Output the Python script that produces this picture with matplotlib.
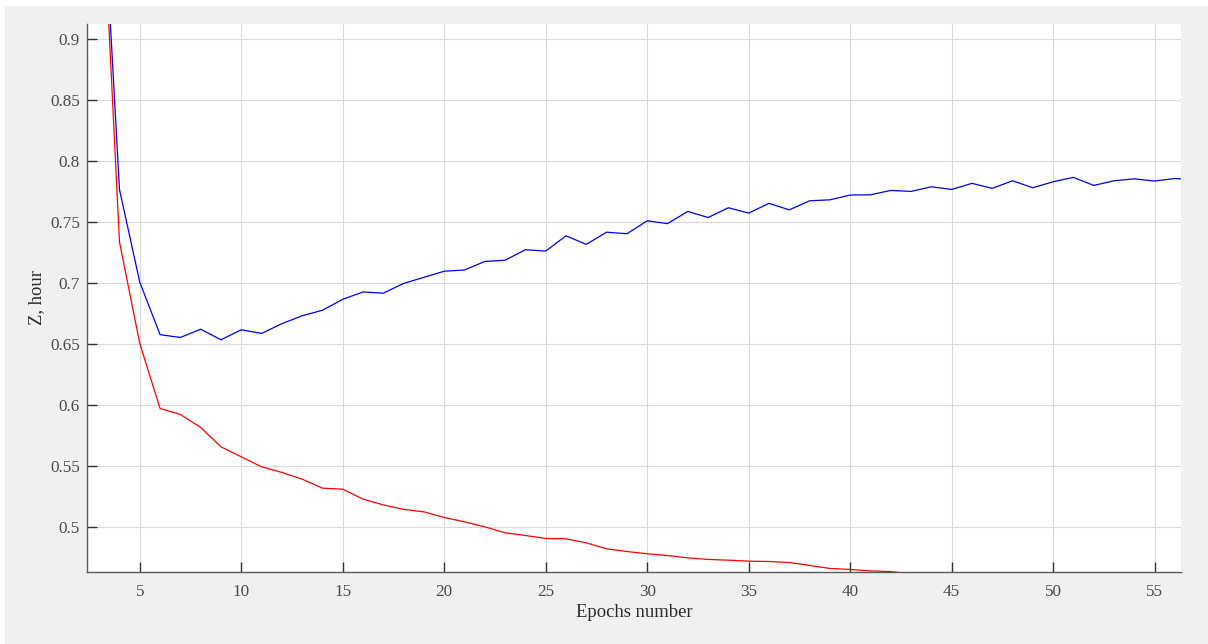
import matplotlib
matplotlib.use("Agg")
import matplotlib.pyplot as plt
from matplotlib.patches import Rectangle

# Validation error (blue) and training error (red) per epoch
epochs_val = list(range(3, 58))
z_val = [1.08, 0.777, 0.701, 0.658, 0.6557, 0.6625, 0.6538, 0.662, 0.659, 0.667,
         0.6735, 0.678, 0.687, 0.693, 0.692, 0.700, 0.705, 0.710, 0.711, 0.718,
         0.719, 0.7276, 0.7265, 0.739, 0.732, 0.742, 0.7407, 0.7513, 0.749, 0.759,
         0.754, 0.762, 0.7576, 0.7656, 0.7603, 0.7677, 0.7685, 0.7724, 0.7726, 0.7762,
         0.7754, 0.7792, 0.777, 0.782, 0.7779, 0.7841, 0.7784, 0.7833, 0.7869, 0.7803,
         0.7841, 0.7857, 0.7839, 0.786, 0.785]

epochs_train = list(range(3, 44))
z_train = [1.073, 0.734, 0.6508, 0.5975, 0.5926, 0.582, 0.5661, 0.5579, 0.5497, 0.5451,
           0.5396, 0.5322, 0.5314, 0.5232, 0.5185, 0.5148, 0.5128, 0.5082, 0.5046, 0.5005,
           0.4956, 0.4934, 0.491, 0.4907, 0.4874, 0.4825, 0.4803, 0.4784, 0.477, 0.4751,
           0.4738, 0.4732, 0.4724, 0.4721, 0.4713, 0.4689, 0.4664, 0.4656, 0.4644, 0.4638,
           0.4622]

x_ticks = list(range(5, 60, 5))
y_ticks = [0.5, 0.55, 0.6, 0.65, 0.7, 0.75, 0.8, 0.85, 0.9]
y_tick_labels = ["0.5", "0.55", "0.6", "0.65", "0.7", "0.75", "0.8", "0.85", "0.9"]

plt.rcParams["font.family"] = ["Liberation Serif", "DejaVu Serif"]

W, H = 1208, 644
fig = plt.figure(figsize=(W / 100, H / 100), dpi=100, facecolor="white")
fig.patches.append(Rectangle((5 / W, 0), 1, 638 / H, transform=fig.transFigure,
                             facecolor="#f0f0f0", edgecolor="none", zorder=-10))

ax = fig.add_axes([87 / W, 1 - 572 / H, (1181 - 87) / W, (572 - 23.5) / H])
ax.set_facecolor("white")

ax.plot(epochs_val, z_val, color="#0000ff", lw=0.9)
ax.plot(epochs_train, z_train, color="#ff0000", lw=0.9)

ax.set_xlim(2.4, 56.3)
ax.set_ylim(0.4635, 0.913)
ax.set_xticks(x_ticks)
ax.set_yticks(y_ticks)
ax.set_yticklabels(y_tick_labels)

ax.grid(True, color="#dadada", lw=0.8)
ax.set_axisbelow(True)

for side in ("top", "right"):
    ax.spines[side].set_visible(False)
for side in ("left", "bottom"):
    ax.spines[side].set_color("#5a5a5a")
    ax.spines[side].set_linewidth(1.0)

ax.tick_params(direction="in", length=7, width=1.0, color="#333333",
               labelcolor="#4a4a4a", labelsize=12.3)
ax.tick_params(axis="y", pad=5)
ax.tick_params(axis="x", pad=8.5)

ax.set_xlabel("Epochs number", fontsize=13.4, color="#2b2b2b", labelpad=3)
ax.set_ylabel("Z, hour", fontsize=13.4, color="#2b2b2b", labelpad=4)

fig.savefig("out.png", dpi=100, facecolor=fig.get_facecolor())
